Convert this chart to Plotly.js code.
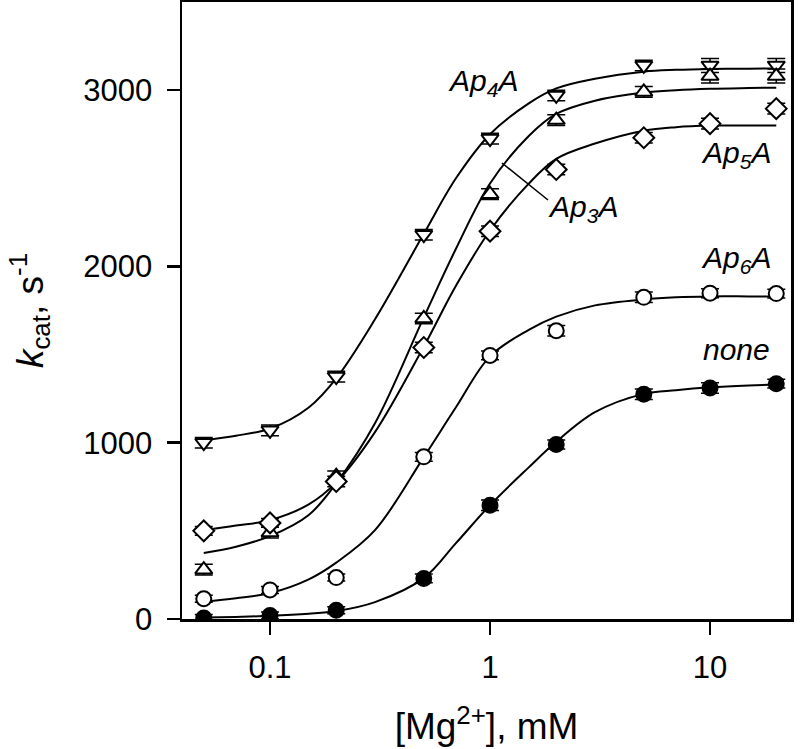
<!DOCTYPE html>
<html>
<head>
<meta charset="utf-8">
<script src="https://cdn.plot.ly/plotly-3.0.1.min.js"></script>
<style>html,body{margin:0;padding:0;background:#fff;}#chart{width:800px;height:749px;}</style>
</head>
<body>
<div id="chart"></div>
<script>
// Measured [Mg2+] concentrations (mM)
const mgConc = [0.05, 0.1, 0.2, 0.5, 1, 2, 5, 10, 20];
// kcat values (s^-1)
const ap4aY = [1000, 1070, 1375, 2180, 2725, 2970, 3140, 3140, 3140];
const ap3aY = [280, 490, 810, 1705, 2410, 2830, 2990, 3080, 3080];
const ap5aY = [500, 545, 780, 1540, 2200, 2550, 2730, 2810, 2895];
const ap6aY = [115, 165, 235, 920, 1495, 1635, 1825, 1848, 1846];
const noneY = [5, 20, 50, 230, 645, 990, 1275, 1310, 1335];
// error bar half-lengths (s^-1)
const ap4aErr = [30, 30, 30, 30, 30, 30, 30, 40, 40];
const ap3aErr = [30, 30, 30, 30, 30, 30, 30, 40, 40];
const ap5aErr = [25, 25, 30, 30, 30, 30, 30, 30, 30];
const ap6aErr = [20, 20, 20, 25, 25, 30, 30, 25, 25];
const noneErr = [20, 20, 20, 25, 30, 25, 30, 30, 25];

// Fitted curves
const fitX = [0.05, 0.07, 0.1, 0.15, 0.2, 0.3, 0.5, 0.7, 1, 1.5, 2, 3, 5, 7, 10, 15, 20];
const ap4aFit = [1015, 1040, 1080, 1200, 1365, 1700, 2185, 2500, 2750, 2925, 3010, 3065, 3105, 3115, 3120, 3122, 3123];
const ap3aFit = [374, 410, 470, 590, 770, 1110, 1711, 2100, 2470, 2740, 2865, 2940, 2986, 3000, 3008, 3012, 3014];
const ap5aFit = [504, 530, 561, 650, 775, 1060, 1545, 1890, 2204, 2470, 2610, 2697, 2770, 2790, 2799, 2800, 2800];
const ap6aFit = [98, 118, 147, 225, 320, 504, 918, 1201, 1490, 1640, 1715, 1779, 1813, 1825, 1830, 1830, 1830];
const noneFit = [8, 12, 18, 30, 45, 96, 232, 430, 646, 860, 1005, 1173, 1277, 1298, 1314, 1325, 1330];

const seriesNames = ['Ap4A', 'Ap3A', 'Ap5A', 'Ap6A', 'none'];
const annoTexts = ['<i>Ap<sub>4</sub>A</i>', '<i>Ap<sub>3</sub>A</i>', '<i>Ap<sub>5</sub>A</i>', '<i>Ap<sub>6</sub>A</i>', '<i>none</i>'];

const fits = [ap4aFit, ap3aFit, ap5aFit, ap6aFit, noneFit];
const pts = [ap4aY, ap3aY, ap5aY, ap6aY, noneY];
const errs = [ap4aErr, ap3aErr, ap5aErr, ap6aErr, noneErr];
const symbols = ['triangle-down', 'triangle-up', 'diamond', 'circle', 'circle'];
const fills = ['#ffffff', '#ffffff', '#ffffff', '#ffffff', '#000000'];
const sizes = [15, 15, 16, 15, 15];

const traces = [];
fits.forEach((f, i) => {
  traces.push({
    x: fitX, y: f, type: 'scatter', mode: 'lines', name: seriesNames[i] + ' fit',
    line: {color: '#000', width: 2, shape: 'spline', smoothing: 1},
    hoverinfo: 'skip', showlegend: false
  });
});
pts.forEach((p, i) => {
  traces.push({
    x: mgConc, y: p, type: 'scatter', mode: 'markers', name: seriesNames[i],
    marker: {symbol: symbols[i], size: sizes[i], color: fills[i], line: {color: '#000', width: 2}},
    error_y: {type: 'data', array: errs[i], visible: true, color: '#000', thickness: 1.5, width: 9},
    showlegend: false
  });
});

const annoFont = {family: 'Liberation Sans, Arial, sans-serif', size: 30, color: '#000'};
const px = v => (v - 182) / 609;
const py = v => (619 - v) / 617;
const annotations = [
  {text: annoTexts[0], x: px(446), y: py(82), xanchor: 'left', yanchor: 'middle'},
  {text: annoTexts[1], x: px(546), y: py(208), xanchor: 'left', yanchor: 'middle'},
  {text: annoTexts[2], x: px(699), y: py(154), xanchor: 'left', yanchor: 'middle'},
  {text: annoTexts[3], x: px(699), y: py(259), xanchor: 'left', yanchor: 'middle'},
  {text: annoTexts[4], x: px(701), y: py(350), xanchor: 'left', yanchor: 'middle'}
].map(a => Object.assign({xref: 'paper', yref: 'paper', showarrow: false, font: annoFont}, a));

const layout = {
  width: 800, height: 749,
  margin: {l: 182, r: 9, t: 2, b: 130},
  paper_bgcolor: '#fff', plot_bgcolor: '#fff',
  font: {family: 'Liberation Sans, Arial, sans-serif', color: '#000'},
  showlegend: false,
  xaxis: {
    type: 'log', range: [-1.4, 1.368],
    tickvals: [0.1, 1, 10], ticktext: ['0.1', '1', '10'],
    ticks: 'outside', ticklen: 13, tickwidth: 2.5, tickcolor: '#000',
    ticklabelstandoff: 6,
    showline: true, linewidth: 2.5, linecolor: '#000', mirror: true,
    showgrid: false, zeroline: false,
    tickfont: {size: 31, color: '#000'},
    title: {text: '[Mg<sup>2+</sup>], mM', font: {size: 37, color: '#000'}, standoff: 30}
  },
  yaxis: {
    range: [0, 3500],
    tickvals: [0, 1000, 2000, 3000], ticktext: ['0', '1000', '2000', '3000'],
    ticks: 'outside', ticklen: 13, tickwidth: 2.5, tickcolor: '#000',
    ticklabelstandoff: 8,
    showline: true, linewidth: 2.5, linecolor: '#000', mirror: true,
    showgrid: false, zeroline: false,
    tickfont: {size: 31, color: '#000'},
    title: {text: '<i>k</i><sub>cat</sub>, s<sup>-1</sup>', font: {size: 37, color: '#000'}, standoff: 29}
  },
  annotations: annotations,
  shapes: [
    {type: 'line', xref: 'paper', yref: 'paper', x0: px(502), y0: py(163), x1: px(548), y1: py(200),
     line: {color: '#000', width: 1.5}}
  ]
};

Plotly.newPlot('chart', traces, layout, {displayModeBar: false, staticPlot: true});
</script>
</body>
</html>
